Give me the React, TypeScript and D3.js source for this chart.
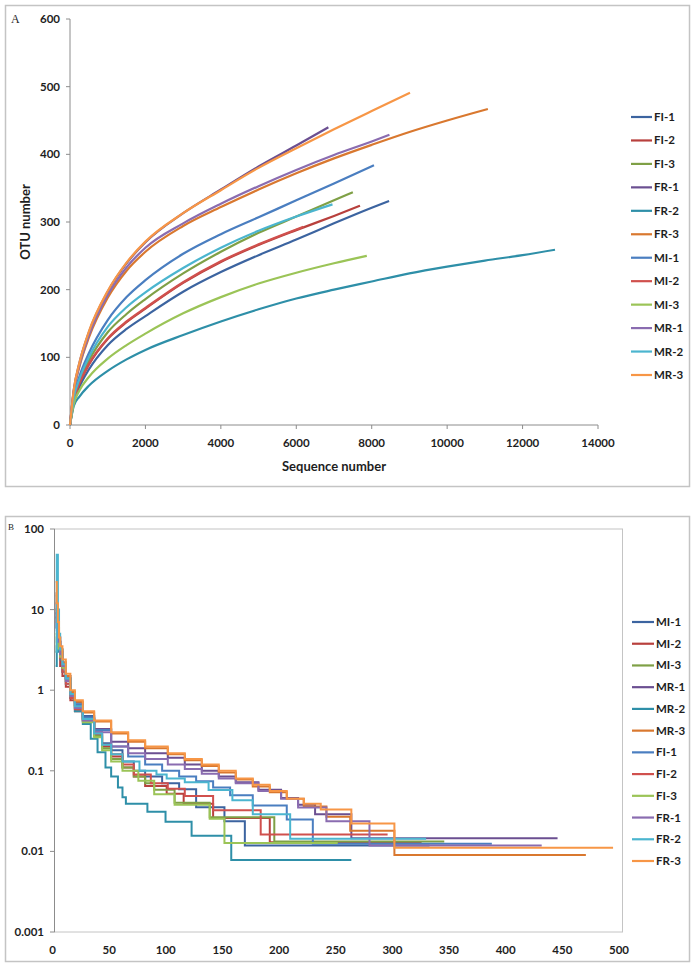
import React from 'react';
import * as d3 from 'd3';

// ---------- shared ----------
const palette = ['#3C64A0', '#B8403D', '#7FA046', '#6B4F91', '#2E8FA8', '#D9782F', '#4A7EC0', '#D0504D', '#9BC457', '#8A6CB0', '#4BB5CF', '#F79646'];

// ---------- Panel A: rarefaction curves [sequence number, OTU number] ----------
const namesA = ['FI-1', 'FI-2', 'FI-3', 'FR-1', 'FR-2', 'FR-3', 'MI-1', 'MI-2', 'MI-3', 'MR-1', 'MR-2', 'MR-3'];
const FI1_A = [[0, 0], [100, 33], [250, 56], [500, 82], [1000, 118], [1500, 142], [2000, 161], [3000, 197], [4000, 226], [5000, 251], [6000, 274], [7000, 298], [8000, 321], [8460, 331]];
const FI2_A = [[0, 0], [100, 36], [250, 61], [500, 89], [1000, 127], [1500, 152], [2000, 172], [3000, 210], [4000, 241], [5000, 266], [6000, 288], [7000, 309], [7690, 324]];
const FI3_A = [[0, 0], [100, 38], [250, 65], [500, 95], [1000, 137], [1500, 164], [2000, 186], [3000, 224], [4000, 256], [5000, 284], [6000, 308], [7000, 332], [7500, 344]];
const FR1_A = [[0, 0], [100, 52], [250, 92], [500, 137], [1000, 197], [1500, 239], [2000, 270], [3000, 313], [4000, 348], [5000, 382], [6000, 413], [6850, 440]];
const FR2_A = [[0, 0], [100, 28], [250, 42], [500, 58], [1000, 80], [1500, 97], [2000, 111], [3000, 133], [4000, 153], [5000, 171], [6000, 187], [7000, 200], [8000, 212], [9000, 224], [10000, 234], [11000, 243], [12000, 251], [12860, 259]];
const FR3_A = [[0, 0], [100, 49], [250, 86], [500, 129], [1000, 188], [1500, 228], [2000, 256], [3000, 294], [4000, 322], [5000, 348], [6000, 372], [7000, 394], [8000, 414], [9000, 433], [10000, 450], [11080, 467]];
const MI1_A = [[0, 0], [100, 42], [250, 72], [500, 106], [1000, 155], [1500, 189], [2000, 214], [3000, 253], [4000, 282], [5000, 307], [6000, 332], [7000, 357], [8060, 384]];
const MI2_A = [[0, 0], [100, 36], [250, 62], [500, 90], [1000, 128], [1500, 153], [2000, 173], [3000, 211], [4000, 242], [5000, 267], [6000, 289], [6190, 293]];
const MI3_A = [[0, 0], [100, 31], [250, 51], [500, 71], [1000, 98], [1500, 118], [2000, 135], [3000, 165], [4000, 189], [5000, 209], [6000, 225], [7000, 239], [7870, 250]];
const MR1_A = [[0, 0], [100, 50], [250, 88], [500, 132], [1000, 192], [1500, 233], [2000, 262], [3000, 298], [4000, 327], [5000, 353], [6000, 377], [7000, 399], [8000, 419], [8470, 429]];
const MR2_A = [[0, 0], [100, 40], [250, 68], [500, 100], [1000, 145], [1500, 174], [2000, 196], [3000, 232], [4000, 262], [5000, 287], [6000, 308], [6960, 326]];
const MR3_A = [[0, 0], [100, 52], [250, 92], [500, 138], [1000, 198], [1500, 240], [2000, 271], [3000, 313], [4000, 347], [5000, 380], [6000, 409], [7000, 437], [8000, 464], [9015, 491]];
const seriesA = [FI1_A, FI2_A, FI3_A, FR1_A, FR2_A, FR3_A, MI1_A, MI2_A, MI3_A, MR1_A, MR2_A, MR3_A];
const ticksAX = [0, 2000, 4000, 6000, 8000, 10000, 12000, 14000];
const ticksAY = [0, 100, 200, 300, 400, 500, 600];

// ---------- Panel B: rank-abundance [rank, relative abundance %] ----------
const namesB = ['MI-1', 'MI-2', 'MI-3', 'MR-1', 'MR-2', 'MR-3', 'FI-1', 'FI-2', 'FI-3', 'FR-1', 'FR-2', 'FR-3'];
const MI1_B = [[1, 8], [2, 6], [3, 4.5], [5, 3.2], [7, 2.2], [10, 1.5], [14, 0.95], [18, 0.7], [25, 0.48], [35, 0.3], [42, 0.22], [50, 0.18], [60, 0.13], [70, 0.1], [80, 0.085], [95, 0.07], [110, 0.059], [125, 0.0354], [150, 0.0236], [168, 0.0118], [331, 0.0118]];
const MI2_B = [[1, 16], [2, 8], [3, 3.5], [5, 2], [7, 1.5], [10, 1.1], [14, 0.75], [18, 0.55], [25, 0.42], [35, 0.28], [42, 0.2], [50, 0.15], [60, 0.11], [70, 0.085], [80, 0.065], [99, 0.052], [114, 0.039], [140, 0.026], [190, 0.013], [324, 0.013]];
const MI3_B = [[1, 3], [2, 4.5], [3, 4], [5, 3], [7, 2], [10, 1.4], [14, 0.9], [18, 0.62], [25, 0.42], [35, 0.27], [42, 0.19], [50, 0.14], [60, 0.11], [70, 0.085], [80, 0.07], [88, 0.058], [106, 0.04], [137, 0.0266], [194, 0.0133], [344, 0.0133]];
const MR1_B = [[1, 10], [2, 6], [3, 4.5], [5, 3], [7, 2.1], [10, 1.4], [14, 0.9], [18, 0.65], [25, 0.45], [35, 0.33], [50, 0.23], [65, 0.19], [80, 0.165], [100, 0.145], [115, 0.12], [130, 0.1], [145, 0.085], [160, 0.072], [180, 0.058], [200, 0.046], [215, 0.038], [230, 0.029], [262, 0.0146], [444, 0.0146]];
const MR2_B = [[1, 2], [2, 3.5], [3, 3], [5, 2.4], [7, 1.7], [10, 1.2], [14, 0.8], [18, 0.55], [25, 0.38], [32, 0.25], [38, 0.17], [45, 0.11], [50, 0.085], [56, 0.062], [60, 0.047], [63, 0.039], [82, 0.031], [98, 0.0234], [121, 0.0156], [156, 0.0078], [262, 0.0078]];
const MR3_B = [[1, 15], [2, 9], [3, 6], [4, 4], [5, 3.2], [7, 2.2], [10, 1.5], [14, 0.95], [18, 0.72], [25, 0.53], [35, 0.41], [50, 0.29], [65, 0.23], [80, 0.19], [100, 0.16], [115, 0.135], [130, 0.115], [145, 0.095], [160, 0.078], [175, 0.064], [190, 0.054], [205, 0.045], [220, 0.036], [240, 0.027], [261, 0.018], [300, 0.009], [469, 0.009]];
const FI1_B = [[1, 9], [2, 6], [3, 4], [5, 2.8], [7, 2], [10, 1.4], [14, 0.9], [18, 0.66], [25, 0.46], [35, 0.32], [50, 0.2], [65, 0.15], [80, 0.12], [95, 0.1], [110, 0.085], [125, 0.074], [140, 0.062], [155, 0.0496], [175, 0.0372], [205, 0.0248], [228, 0.0124], [386, 0.0124]];
const FI2_B = [[1, 12], [2, 7], [3, 4], [5, 2.5], [7, 1.7], [10, 1.2], [14, 0.8], [18, 0.58], [25, 0.44], [35, 0.29], [42, 0.21], [50, 0.16], [60, 0.12], [70, 0.09], [85, 0.07], [100, 0.06], [115, 0.0486], [140, 0.0324], [182, 0.0162], [294, 0.0162]];
const FI3_B = [[1, 5], [2, 4], [3, 3.3], [5, 2.6], [7, 1.9], [10, 1.3], [14, 0.85], [18, 0.6], [25, 0.4], [35, 0.26], [42, 0.18], [50, 0.13], [60, 0.1], [74, 0.075], [88, 0.051], [106, 0.038], [137, 0.0254], [150, 0.0127], [250, 0.0127]];
const FR1_B = [[1, 9], [2, 5.5], [3, 4], [5, 2.8], [7, 2], [10, 1.3], [14, 0.85], [18, 0.6], [25, 0.42], [35, 0.3], [50, 0.2], [65, 0.165], [80, 0.14], [100, 0.12], [115, 0.105], [130, 0.092], [145, 0.08], [160, 0.07], [180, 0.056], [200, 0.045], [215, 0.035], [240, 0.0236], [278, 0.0118], [430, 0.0118]];
const FR2_B = [[1, 3], [2, 48], [3, 10], [4, 5], [5, 3.2], [7, 2.1], [10, 1.4], [14, 0.9], [18, 0.63], [25, 0.44], [35, 0.29], [42, 0.21], [50, 0.16], [60, 0.13], [75, 0.1], [90, 0.09], [99, 0.08], [115, 0.072], [136, 0.0576], [157, 0.0432], [175, 0.0288], [208, 0.0144], [328, 0.0144]];
const FR3_B = [[1, 22], [2, 12], [3, 7], [4, 4.5], [5, 3.5], [7, 2.4], [10, 1.6], [14, 1.0], [18, 0.75], [25, 0.55], [35, 0.42], [50, 0.3], [65, 0.24], [80, 0.2], [100, 0.165], [115, 0.14], [130, 0.12], [145, 0.1], [160, 0.08], [175, 0.067], [190, 0.056], [205, 0.045], [220, 0.039], [235, 0.033], [262, 0.0222], [300, 0.0111], [493, 0.0111]];
const seriesB = [MI1_B, MI2_B, MI3_B, MR1_B, MR2_B, MR3_B, FI1_B, FI2_B, FI3_B, FR1_B, FR2_B, FR3_B];
const ticksBX = [0, 50, 100, 150, 200, 250, 300, 350, 400, 450, 500];
const ticksBY = [0.001, 0.01, 0.1, 1, 10, 100];
const tickLabelsBY = ['0.001', '0.01', '0.1', '1', '10', '100'];

const FONT = 'Lato, "Open Sans", sans-serif';
const TXT = '#1e1e1e';
const AXIS = '#8c8c8c';
const FRAME = '#c4c4c4';

export default function App() {
  // Panel A scales
  const xA = d3.scaleLinear().domain([0, 14000]).range([70, 598]);
  const yA = d3.scaleLinear().domain([0, 600]).range([425, 19]);
  const lineA = d3.line<number[]>().x(d => xA(d[0])).y(d => yA(d[1])).curve(d3.curveMonotoneX);

  // Panel B scales
  const xB = d3.scaleLinear().domain([0, 500]).range([54.5, 621]);
  const yB = d3.scaleLog().domain([0.001, 100]).range([932, 529]);
  const lineB = d3.line<number[]>().x(d => xB(d[0])).y(d => yB(d[1])).curve(d3.curveStepAfter);

  const legA = d3.scaleLinear().domain([0, 11]).range([117, 375]);
  const legB = d3.scaleLinear().domain([0, 11]).range([622, 861]);

  return (
    <svg width={695} height={964} style={{ position: 'absolute', left: 0, top: 0, background: '#fff' }} fontFamily={FONT}>
      <rect x={0} y={0} width={695} height={964} fill="#fff" />
      {/* ---------------- Panel A ---------------- */}
      <rect x={5.5} y={5.5} width={684} height={481} fill="none" stroke={FRAME} strokeWidth={1.5} />
      <text x={11} y={23} fontFamily="'Liberation Serif', 'DejaVu Serif', serif" fontSize={12} fill={TXT}>A</text>
      <line x1={70} x2={70} y1={yA(600)} y2={yA(0)} stroke={AXIS} strokeWidth={1} />
      <line x1={70} x2={598} y1={425} y2={425} stroke={AXIS} strokeWidth={1} />
      {ticksAY.map(t => (
        <g key={'ay' + t}>
          <line x1={66} x2={70} y1={yA(t)} y2={yA(t)} stroke={AXIS} />
          <text x={60} y={yA(t)} dy="0.35em" textAnchor="end" fontSize={11.5} fontWeight={700} fill={TXT}>{t}</text>
        </g>
      ))}
      {ticksAX.map(t => (
        <g key={'ax' + t}>
          <line x1={xA(t)} x2={xA(t)} y1={425} y2={429} stroke={AXIS} />
          <text x={xA(t)} y={443} dy="0.35em" textAnchor="middle" fontSize={11.5} fontWeight={700} fill={TXT}>{t}</text>
        </g>
      ))}
      <text x={334} y={466} dy="0.35em" textAnchor="middle" fontSize={13} fontWeight={700} fill={TXT}>Sequence number</text>
      <text transform={`translate(25,${yA(300)}) rotate(-90)`} dy="0.35em" textAnchor="middle" fontSize={13} fontWeight={700} fill={TXT}>OTU number</text>
      {seriesA.map((s, i) => (
        <path key={'la' + i} d={lineA(s) || ''} fill="none" stroke={palette[i]} strokeWidth={2.2} strokeLinejoin="round" />
      ))}
      {namesA.map((n, i) => (
        <g key={'lgA' + n}>
          <line x1={631} x2={652} y1={legA(i)} y2={legA(i)} stroke={palette[i]} strokeWidth={2.2} />
          <text x={654} y={legA(i)} dy="0.35em" fontSize={11.5} fontWeight={700} fill={TXT}>{n}</text>
        </g>
      ))}

      {/* ---------------- Panel B ---------------- */}
      <rect x={5.5} y={516.5} width={684} height={445} fill="none" stroke={FRAME} strokeWidth={1.5} />
      <text x={8} y={530} fontFamily="'Liberation Serif', 'DejaVu Serif', serif" fontSize={9} fill={TXT}>B</text>
      <rect x={54.5} y={529} width={568} height={403} fill="none" stroke={FRAME} strokeWidth={1} />
      <line x1={54.5} x2={54.5} y1={529} y2={932} stroke={AXIS} strokeWidth={1} />
      {ticksBY.map((t, i) => (
        <g key={'by' + t}>
          <line x1={50} x2={54.5} y1={yB(t)} y2={yB(t)} stroke={AXIS} />
          <text x={44} y={yB(t)} dy="0.35em" textAnchor="end" fontSize={11.5} fontWeight={700} fill={TXT}>{tickLabelsBY[i]}</text>
        </g>
      ))}
      {ticksBX.map(t => (
        <text key={'bx' + t} x={xB(t) - 2} y={950} dy="0.35em" textAnchor="middle" fontSize={11.5} fontWeight={700} fill={TXT}>{t}</text>
      ))}
      {seriesB.map((s, i) => (
        <path key={'lb' + i} d={lineB(s) || ''} fill="none" stroke={palette[i]} strokeWidth={2} strokeLinejoin="miter" />
      ))}
      {namesB.map((n, i) => (
        <g key={'lgB' + n}>
          <line x1={632} x2={654} y1={legB(i)} y2={legB(i)} stroke={palette[i]} strokeWidth={2.2} />
          <text x={656} y={legB(i)} dy="0.35em" fontSize={11.5} fontWeight={700} fill={TXT}>{n}</text>
        </g>
      ))}
    </svg>
  );
}
